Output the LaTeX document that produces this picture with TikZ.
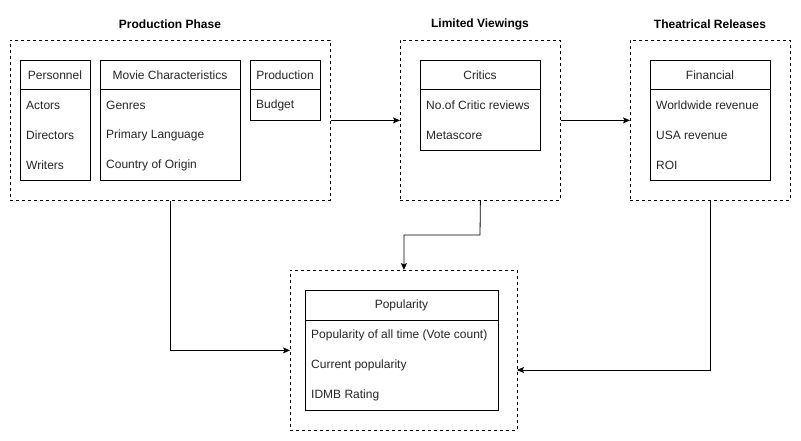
\documentclass[tikz,border=0pt]{standalone}
\usepackage{fontspec}
\setmainfont{Liberation Sans}
\usetikzlibrary{arrows.meta}
\newcommand{\tblbox}[6]{% name, x, y, w, h, header
  \node[tbox, minimum width=#4pt, minimum height=#5pt, anchor=north west] (#1) at (#2,#3) {};
  \draw[tline] (#2,#3+30) -- (#2+#4,#3+30);
  \node[htext] (#1-h) at (#2+#4/2,#3+15) {#6};
}
\newcommand{\tblrow}[5]{% name, x, y, index, text
  \node[rtext] (#1) at (#2+6,#3+45+30*#4) {#5};
}
\begin{document}
\begin{tikzpicture}[x=1pt,y=-1pt,
  font=\fontsize{12}{14}\selectfont,
  tbox/.style={draw, line width=1pt, inner sep=0pt, fill=white},
  tline/.style={line width=1pt},
  container/.style={draw, line width=0.8pt, dash pattern=on 3pt off 3pt, inner sep=0pt, anchor=north west},
  htext/.style={inner sep=0pt, text=black!85},
  rtext/.style={inner sep=0pt, anchor=west, text=black!85},
  ttl/.style={inner sep=0pt, font=\fontsize{12}{14}\selectfont\bfseries},
  arr/.style={line width=0.8pt, -{Stealth[length=7pt,width=6pt,inset=1.5pt]}}]
\useasboundingbox (0,0) rectangle (801,441);

% containers
\node[container, minimum width=320pt, minimum height=160pt] (prod) at (10,40) {};
\node[container, minimum width=160pt, minimum height=160pt] (lim) at (400,40) {};
\node[container, minimum width=160pt, minimum height=160pt] (theat) at (630,40) {};
\node[container, minimum width=227pt, minimum height=160pt] (pop) at (290,270) {};

% titles
\node[ttl] (t1) at (170,24) {Production Phase};
\node[ttl] (t2) at (480,24) {Limited Viewings};
\node[ttl] (t3) at (710,24) {Theatrical Releases};

% Personnel
\tblbox{pers}{20}{60}{70}{120}{Personnel}
\tblrow{pers1}{20}{60}{0}{Actors}
\tblrow{pers2}{20}{60}{1}{Directors}
\tblrow{pers3}{20}{60}{2}{Writers}

% Movie characteristics
\tblbox{movie}{100}{60}{140}{120}{Movie Characteristics}
\tblrow{movie1}{100}{60}{0}{Genres}
\tblrow{movie2}{100}{60}{1}{Primary Language}
\tblrow{movie3}{100}{60}{2}{Country of Origin}

% Production
\tblbox{pro}{250}{60}{70}{60}{Production}
\tblrow{pro1}{250}{60}{0}{Budget}

% Critics
\tblbox{crit}{420}{60}{120}{90}{Critics}
\tblrow{crit1}{420}{60}{0}{No.of Critic reviews}
\tblrow{crit2}{420}{60}{1}{Metascore}

% Financial
\tblbox{fin}{650}{60}{120}{120}{Financial}
\tblrow{fin1}{650}{60}{0}{Worldwide revenue}
\tblrow{fin2}{650}{60}{1}{USA revenue}
\tblrow{fin3}{650}{60}{2}{ROI}

% Popularity
\tblbox{popu}{305}{290}{193}{120}{Popularity}
\tblrow{popu1}{305}{290}{0}{Popularity of all time (Vote count)}
\tblrow{popu2}{305}{290}{1}{Current popularity}
\tblrow{popu3}{305}{290}{2}{IDMB Rating}

% connectors
\coordinate (popR) at (517,370);
\coordinate (limBend) at (480,235);
\draw[arr] (prod.east) -- (lim.west);
\draw[arr] (lim.east) -- (theat.west);
\draw[arr] (prod.south) |- (pop.west);
\draw[arr] (lim.south) -- (limBend) -| (pop.north);
\draw[arr] (theat.south) |- (popR);
\end{tikzpicture}
\end{document}
